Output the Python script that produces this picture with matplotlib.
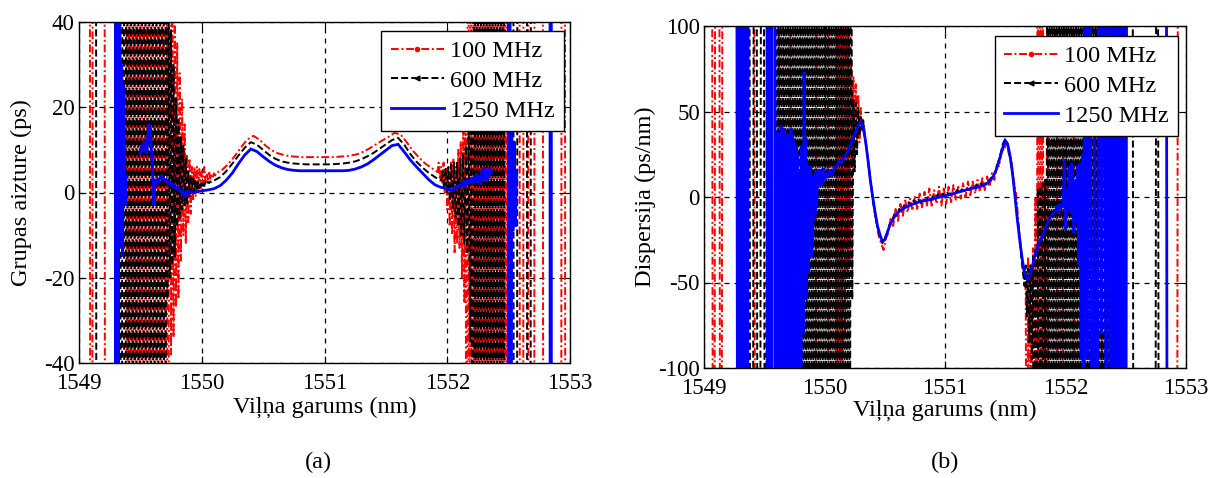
import numpy as np
import matplotlib
matplotlib.use("Agg")
import matplotlib.pyplot as plt
from matplotlib.lines import Line2D

# ---------------------------------------------------------------- data
# Each series is a list of segments (start_nm, stop_nm, values); values are
# equally spaced between start and stop.  OFF marks excursions that leave the
# visible axis range (the measured curves oscillate far outside the window).
OFF = 300

series_labels = ["100 MHz", "600 MHz", "1250 MHz"]
wl_ticks = [1549, 1550, 1551, 1552, 1553]
gd_ticks = [-40, -20, 0, 20, 40]
disp_ticks = [-100, -50, 0, 50, 100]

# ---- (a) group delay, ps
gd_red = [
    (1549.085, 1549.095, [OFF, -OFF]),
    (1549.105, 1549.115, [-OFF, OFF]),
    (1549.205, 1549.215, [OFF, -OFF]),
    (1549.38, 1549.74, [OFF, -280, 310, -OFF, 270, -320, OFF, -290, 260, -OFF, 330, -270,
                        OFF, -310, 280, -OFF, 300, -260, 320, -OFF, 290, -300, OFF, -280, OFF]),
    (1549.74, 1550.12, [OFF, -38, 45, -34, 40, -27, 35, -25, 28, -16, 22, -10, 16, -12, 9, -7,
                        8, -5, 6, -2, 6, -1, 6, 0, 5.5, 1, 5, 2, 6, 2.5, 4.5, 3, 5, 3, 4, 3.5,
                        4.5, 4, 4.6]),
    (1550.12, 1551.92, [4.6, 5.4, 6.8, 8.6, 10.6, 12.4, 13.3, 12.4, 11.0, 9.9, 9.2, 8.8, 8.5,
                        8.4, 8.3, 8.3, 8.3, 8.3, 8.3, 8.3, 8.4, 8.5, 8.7, 9.0, 9.6, 10.4, 11.3,
                        12.2, 13.0, 14.0, 13.6, 11.8, 9.8, 8.2, 6.8, 5.8, 4.8]),
    (1551.92, 1552.50, [4.8, 7, 3, 6, 2, 7, 0, 6, -4, 5, -8, 7, -10, 8, -14, 6, -12, 10, -13,
                        12, -20, 18, -26, 35, -OFF, OFF, -280, 310, -OFF, 270, -OFF, 290, -320,
                        OFF, -260, 300, -OFF, 280, -310, OFF, -290, 270, -OFF, 320, -280, OFF,
                        -300, 260, -OFF, OFF, -270, 310, -OFF, 290, -OFF, 280, -320, OFF, -OFF]),
    (1552.585, 1552.595, [OFF, -OFF]),
    (1552.615, 1552.625, [-OFF, OFF]),
    (1552.655, 1552.665, [OFF, -OFF]),
    (1552.705, 1552.715, [-OFF, OFF]),
    (1552.775, 1552.785, [OFF, -OFF]),
    (1552.925, 1552.935, [-OFF, OFF]),
    (1552.955, 1552.965, [OFF, -OFF]),
]

gd_black = [
    (1549.135, 1549.145, [OFF, -OFF]),
    (1549.33, 1549.70, [OFF, -290, 310, -OFF, 280, -270, OFF, -320, 260, -OFF, 300, -280, 330,
                        -OFF, 270, -300, OFF, -260, 310, -OFF, 290, -330, OFF, -270, 280, -OFF]),
    (1549.70, 1550.10, [-OFF, 45, -25, 42, -20, 38, -17, 30, -15, 22, -8, 17, -6, 13, -4, 11,
                        -3, 8, -3, 5, -1, 4, 0, 3.5, 0, 3, 0.5, 2.5, 1, 2.5, 1.5, 2.5, 1.5, 2.5,
                        2, 2.5, 2.2, 2.6, 2.5, 2.8, 2.8]),
    (1550.10, 1551.95, [2.8, 3.6, 5.0, 6.8, 8.7, 10.5, 11.8, 11.2, 10.0, 8.8, 7.9, 7.3, 7.0,
                        6.8, 6.7, 6.6, 6.6, 6.6, 6.6, 6.6, 6.7, 6.8, 7.0, 7.3, 7.8, 8.5, 9.3,
                        10.3, 11.3, 12.3, 12.8, 11.2, 9.0, 7.2, 5.8, 4.6, 3.6, 2.8]),
    (1551.95, 1552.47, [2.8, 5, 1, 5.5, 0, 6, -2, 6.5, -4, 7, -6, 7, -8, 8, -10, 9, -12, 11,
                        -14, 15, -35, 25, -OFF, 290, -310, OFF, -270, 300, -OFF, 280, -320, OFF,
                        -260, 310, -OFF, 270, -290, OFF, -300, 330, -OFF, 280, -270, OFF, -OFF]),
    (1552.535, 1552.545, [OFF, -OFF]),
    (1552.565, 1552.575, [-OFF, OFF]),
    (1552.645, 1552.655, [OFF, -OFF]),
    (1552.675, 1552.685, [-OFF, OFF]),
]

gd_blue = [
    (1549.295, 1549.325, [OFF, -OFF, OFF, -OFF, OFF, -OFF, OFF]),
    (1549.325, 1549.385, [OFF, -13, 30, -15, 25, -3, 4]),
    (1549.50, 1550.00, [9, 11, 9.5, 12, 10, 9, 13, 16, 14, 10, 5, -3, 3, 2, 3, 2.5, 3.5, 3.8,
                        3.5, 3, 2.8, 3, 2.2, 2, 2.5, 2, 1.5, 1.8, 1.2, 1, 1.3, 0.8, 0.5, 0.2,
                        0.5, -0.5, -1.2, 0.3, -0.3, 0.2, -0.2, 0, 0, 0.1, 0, 0.1, 0.2, 0.2, 0.3,
                        0.3, 0.4]),
    (1550.00, 1552.00, [0.4, 0.6, 0.9, 1.6, 2.9, 4.6, 6.8, 8.8, 10.2, 9.6, 8.4, 7.3, 6.4, 5.8,
                        5.4, 5.2, 5.1, 5.1, 5.1, 5.1, 5.1, 5.1, 5.1, 5.1, 5.2, 5.5, 6.0, 6.7,
                        7.7, 8.8, 9.9, 11.0, 11.3, 9.5, 7.6, 6.0, 4.5, 3.0, 1.8, 1.2, 0.9]),
    (1552.00, 1552.36, [0.9, 0.6, 0.8, 0.5, 0.6, 0.5, 1.0, 1.3, 1.0, 1.6, 1.8, 1.5, 2.0, 1.6,
                        2.4, 1.8, 2.6, 2.0, 3.0, 2.2, 3.5, 2.0, 4.0, 2.5, 4.5, 2.2, 3.8, 1.8,
                        5.0, 3.0, 6.0, 2.5, 5.5, 3.0, 5.8, 4.0, 5.0]),
    (1552.495, 1552.515, [-OFF, OFF, -OFF, OFF, -OFF]),
    (1552.515, 1552.565, [-OFF, 15, -9, 12, -8, 5]),
    (1552.835, 1552.850, [OFF, -OFF, OFF, -OFF]),
]

# ---- (b) dispersion, ps/nm
disp_red = [
    (1549.065, 1549.075, [OFF, -OFF]),
    (1549.085, 1549.095, [-OFF, OFF]),
    (1549.125, 1549.135, [OFF, -OFF]),
    (1549.145, 1549.155, [-OFF, OFF]),
    (1549.415, 1549.425, [OFF, -OFF]),
    (1549.615, 1549.625, [-OFF, OFF]),
    (1549.715, 1549.725, [OFF, -OFF]),
    (1549.925, 1549.935, [-OFF, OFF]),
    (1550.025, 1550.035, [OFF, -OFF]),
    (1550.09, 1550.33, [-OFF, OFF, -OFF, OFF, -OFF, OFF, -OFF, OFF, -80, OFF, -45, OFF, -40,
                        78, 18, 70, 25, 66, 30, 60, 32, 52, 38, 46, 40]),
    (1550.33, 1551.67, [40, 28, 17, 5, -6, -14, -23, -27, -31, -24, -21, -12, -17, -7, -14,
                        -4, -11, -2, -9, -1, -8, 0, -7, 2, -6, 3, -5, 5, -6, 4, -4, 6, -5, 5,
                        -4, 6, -3, 7, -2, 6, -1, 8, 0, 9, 1, 9, 2, 10, 3, 11, 4, 12, 6, 14, 10,
                        19, 18, 28, 27, 33, 25, 22, 10, 2, -15, -30, -42, -55]),
    (1551.67, 1551.86, [-55, -OFF, -35, -OFF, -40, -OFF, -30, -OFF, 0, -OFF, OFF, -OFF, OFF,
                        -OFF, OFF, -OFF, 5, -OFF, OFF, -OFF]),
    (1551.925, 1551.935, [OFF, -OFF]),
    (1551.975, 1551.985, [-OFF, OFF]),
    (1552.065, 1552.075, [OFF, -OFF]),
    (1552.245, 1552.255, [-OFF, OFF]),
    (1552.295, 1552.305, [OFF, -OFF]),
    (1552.925, 1552.935, [-OFF, OFF]),
]

disp_black = [
    (1549.375, 1549.385, [OFF, -OFF]),
    (1549.405, 1549.415, [-OFF, OFF]),
    (1549.435, 1549.445, [OFF, -OFF]),
    (1549.465, 1549.475, [-OFF, OFF]),
    (1549.495, 1549.505, [OFF, -OFF]),
    (1549.515, 1549.525, [-OFF, OFF]),
    (1549.60, 1550.22, [OFF, -290, 310, -OFF, 280, -270, OFF, -320, 260, -OFF, 300, -280, 330,
                        -OFF, 270, -300, OFF, -260, 310, -OFF, 290, -330, OFF, -270, 280, -OFF,
                        320, -290, OFF, -300, 260, -OFF, 310, -280, OFF, -270, 290, -OFF, 300,
                        -310, OFF, -260, 280, -OFF, 270, -300, OFF, -290, 320, -OFF, 260, -280,
                        OFF, -310, 290, -OFF, 300, -270, OFF, -320, 280, -OFF, OFF]),
    (1550.22, 1550.34, [OFF, -60, 57, 15, 55, 25, 52, 36, 48, 40, 45, 38, 33]),
    (1550.34, 1551.66, [33, 22, 10, -1, -10, -18, -23, -27, -24, -21, -16, -14, -10, -11, -7,
                        -8, -5, -6, -3, -5, -2, -4, -1.5, -3.5, -1, -2.5, 0, -2, 0.5, -1, 1.5,
                        0, 2, 0.5, 2.5, 1, 3, 2, 4, 2.5, 4.5, 3.5, 5.5, 4, 6, 5, 7, 6, 8, 7, 9,
                        9, 11, 12, 15, 20, 25, 31, 34, 30, 23, 14, 3, -12, -25, -40, -52]),
    (1551.66, 1552.50, [-52, -40, -70, -42, -85, -40, -95, -35, -OFF, -30, -OFF, 5, -OFF, 6,
                        -OFF, 8, -OFF, 10, -OFF, OFF, -OFF, 290, -310, OFF, -270, 300, -OFF,
                        280, -320, OFF, -260, 310, -OFF, 270, -290, OFF, -300, 330, -OFF, 280,
                        -270, OFF, -310, 260, -OFF, 300, -290, OFF, -280, 320, -OFF, 270, -300,
                        OFF, -260, 310, -OFF, 290, -330, OFF, -270, 280, -OFF, 320, -290, OFF,
                        -300, 260, -OFF, 310, -280, OFF, -270, 290, -OFF, 300, -310, OFF, -260,
                        280, -OFF, 270, -300, OFF, -OFF]),
    (1552.555, 1552.565, [OFF, -OFF]),
    (1552.745, 1552.755, [-OFF, OFF]),
    (1552.765, 1552.775, [OFF, -OFF]),
]

disp_blue = [
    (1549.27, 1549.37, [OFF, -OFF, OFF, -OFF, OFF, -OFF, OFF, -OFF, OFF, -OFF, OFF]),
    (1549.52, 1549.57, [OFF, -OFF, OFF, -OFF, OFF, -OFF]),
    (1549.585, 1550.00, [OFF, 45, -OFF, 30, -90, 38, -OFF, 10, -OFF, 35, -60, 42, -OFF, 20,
                         -OFF, 40, -50, 36, -OFF, 15, -OFF, 37, -80, 30, -OFF, 40, -40, 37,
                         -OFF, 33, -75, 10, -OFF, 30, -OFF, 25, -100, 5, -60, 15, -OFF, 30, -50,
                         20, -80, 73, -40, 35, -60, 20, -35, 15, -45, 18, -20, 18, -35, 10, -25,
                         12, -13, 6, -10, 15, -5, 5, 16, 6, 14, 8, 16, 7, 15, 10, 17, 9, 15]),
    (1550.00, 1550.30, [15, 11, 16, 13, 17, 18, 21, 20, 23, 25, 28, 31, 35, 38, 42, 44]),
    (1550.30, 1551.92, [44, 41, 33, 22, 10, 0, -9, -17, -22, -26, -25, -21, -17, -14, -11.5,
                        -10, -8.5, -7.5, -6.5, -5.8, -5, -4.5, -4, -3.5, -3, -2.7, -2.4, -2,
                        -1.7, -1.3, -1, -0.6, -0.3, 0, 0.3, 0.6, 1, 1.4, 1.8, 2.2, 2.6, 3, 3.4,
                        3.8, 4.2, 4.6, 5, 5.3, 5.6, 5.9, 6.3, 6.8, 7.5, 8.5, 10, 12, 15, 19,
                        24, 29, 33, 31, 24, 14, 1, -13, -25, -36, -44, -48, -47, -42, -36,
                        -31, -27, -24, -21, -17, -14, -11, -9.5, -8]),
    (1551.92, 1552.16, [-8, -5, -10, -4, -7, -4, -6, 22, -19, 5, -8, 18, -10, 20, 14, -21, 10,
                        -15, 18, -40, 20, -95, 25, -OFF, OFF]),
    (1552.16, 1552.38, [OFF, -95, OFF, -OFF, 40, -OFF, OFF, -80, OFF, -OFF, OFF, -OFF]),
    (1552.38, 1552.51, [-OFF, OFF, -OFF, OFF, -OFF, OFF, -OFF, OFF, -OFF, OFF, -OFF, OFF,
                        -OFF, OFF]),
    (1552.835, 1552.845, [OFF, -OFF]),
]


def build(segments):
    xs, ys = [], []
    prev_end = None
    for a, b, vals in segments:
        x = list(np.linspace(a, b, len(vals)))
        v = list(vals)
        if prev_end is not None:
            if abs(a - prev_end) < 1e-9:
                x, v = x[1:], v[1:]
            else:
                xs.append(np.nan)
                ys.append(np.nan)
        xs.extend(x)
        ys.extend(v)
        prev_end = b
    return np.array(xs), np.array(ys)


# ---------------------------------------------------------------- style
plt.rcParams["font.family"] = ["Liberation Serif", "DejaVu Serif"]
plt.rcParams["font.size"] = 17
plt.rcParams["axes.unicode_minus"] = False
plt.rcParams["path.simplify"] = False

RED, BLACK, BLUE = "#ff0000", "#000000", "#0000ff"
red_ls = (0, (4.0, 1.4, 1.0, 1.4))
black_ls = (0, (3.6, 1.6))
styles = [
    dict(color=RED, lw=1.4, ls=red_ls),
    dict(color=BLACK, lw=1.4, ls=black_ls),
    dict(color=BLUE, lw=2.0, ls="-"),
]

W, H = 1209, 478
fig = plt.figure(figsize=(W / 100, H / 100), dpi=100)
ax1 = fig.add_axes([79 / W, 1 - 363 / H, (570 - 79) / W, (363 - 22) / H])
ax2 = fig.add_axes([704 / W, 1 - 368 / H, (1186 - 704) / W, (368 - 26) / H])

panels = [
    (ax1, [gd_red, gd_black, gd_blue], gd_ticks, "Grupas aizture (ps)", (0.988, 0.974)),
    (ax2, [disp_red, disp_black, disp_blue], disp_ticks, "Dispersija (ps/nm)", (0.983, 0.971)),
]

for ax, series, yt, ylab, anchor in panels:
    for segs, st in zip(series, styles):
        x, y = build(segs)
        ax.plot(x, y, color=st["color"], lw=st["lw"], linestyle=st["ls"],
                solid_joinstyle="miter", dash_capstyle="butt")
    ax.set_xlim(wl_ticks[0], wl_ticks[-1])
    ax.set_ylim(yt[0], yt[-1])
    ax.set_xticks(wl_ticks)
    ax.set_yticks(yt)
    ax.grid(True, color="k", lw=0.9, linestyle=(0, (4, 4)))
    ax.set_axisbelow(True)
    ax.tick_params(direction="in", length=5, width=0.8, top=True, right=True,
                   labelsize=16.5)
    ax.tick_params(axis="x", pad=7)
    ax.tick_params(axis="y", pad=3)
    for sp in ax.spines.values():
        sp.set_linewidth(1.0)
    ax.set_ylabel(ylab, fontsize=17.5)
    ax.set_xlabel("Viļņa garums (nm)", fontsize=17.5)
    handles = [
        Line2D([], [], color=RED, lw=1.4, linestyle=red_ls, marker=".", ms=6),
        Line2D([], [], color=BLACK, lw=1.4, linestyle=black_ls, marker="<", ms=3.5),
        Line2D([], [], color=BLUE, lw=2.0, linestyle="-"),
    ]
    leg = ax.legend(handles, series_labels, loc="upper right", bbox_to_anchor=anchor,
                    borderaxespad=0, fancybox=False, framealpha=1, edgecolor="k",
                    fontsize=17.5, handlelength=2.2, labelspacing=0.32, borderpad=0.38,
                    handletextpad=0.25, numpoints=1)
    leg.get_frame().set_linewidth(1.0)

ax1.yaxis.set_label_coords(-0.096, 0.5)
ax2.yaxis.set_label_coords(-0.10, 0.5)
ax1.xaxis.set_label_coords(0.5, -0.100)
ax2.xaxis.set_label_coords(0.5, -0.092)

fig.text(318 / W, 1 - 462 / H, "(a)", ha="center", va="center", fontsize=17.5)
fig.text(945 / W, 1 - 462 / H, "(b)", ha="center", va="center", fontsize=17.5)

fig.savefig("out.png", dpi=100)
